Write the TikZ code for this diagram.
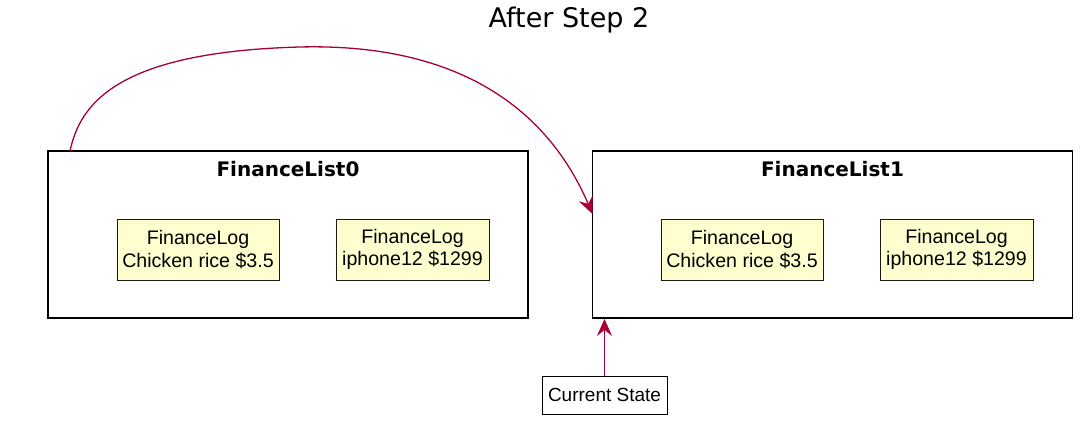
\documentclass[tikz,border=0pt]{standalone}
\usepackage{fontspec}
\setmainfont{Liberation Sans}
\newfontfamily\dejavu{DejaVu Sans}
\usetikzlibrary{arrows.meta}
\definecolor{plarrow}{HTML}{A80036}
\definecolor{plfill}{HTML}{FEFECE}
\begin{document}
\begin{tikzpicture}[x=1pt,y=-1pt,
  titlestyle/.style={font=\dejavu\fontsize{27}{32}\selectfont, inner sep=0pt},
  pkg/.style={draw=black, line width=1.8pt, minimum width=480pt, minimum height=167pt, inner sep=0pt},
  pkgtitle/.style={font=\dejavu\bfseries\fontsize{20}{24}\selectfont, inner sep=0pt},
  logbox/.style={draw=black!90, fill=plfill, line width=0.9pt, minimum height=61pt, align=center, inner sep=0pt, font=\fontsize{19.6}{22.5}\selectfont},
  statebox/.style={draw=black, fill=white, line width=0.9pt, minimum width=125pt, minimum height=38pt, inner sep=0pt, font=\fontsize{19}{22}\selectfont},
  conn/.style={draw=plarrow, line width=1.3pt, -{Stealth[length=17pt,width=15pt,inset=6pt]}}]
\useasboundingbox (0,0) rectangle (1088,430);
\node[titlestyle] (title) at (569,20) {After Step 2};
\node[pkg] (fl0) at (288,234.5) {};
\node[pkgtitle] (t0) at (288,169) {FinanceList0};
\node[pkg] (fl1) at (832.5,234.5) {};
\node[pkgtitle] (t1) at (832.5,169) {FinanceList1};
\node[logbox, minimum width=162pt] (a0) at (198,249.5) {FinanceLog\\Chicken rice \$3.5};
\node[logbox, minimum width=153pt] (b0) at (412.5,249.5) {FinanceLog\\iphone12 \$1299};
\node[logbox, minimum width=162pt] (a1) at (742,249.5) {FinanceLog\\Chicken rice \$3.5};
\node[logbox, minimum width=153pt] (b1) at (956.5,249.5) {FinanceLog\\iphone12 \$1299};
\node[statebox] (cs) at (604.5,395) {Current State};
\coordinate (s0) at (70,151);
\coordinate (e1) at (592.5,214);
\draw[conn] (s0) .. controls (80,105) and (115,52) .. (300,47) .. controls (460,43) and (548,110) .. (e1);
\draw[conn] (cs.north) -- (cs.north |- fl1.south);
\end{tikzpicture}
\end{document}
